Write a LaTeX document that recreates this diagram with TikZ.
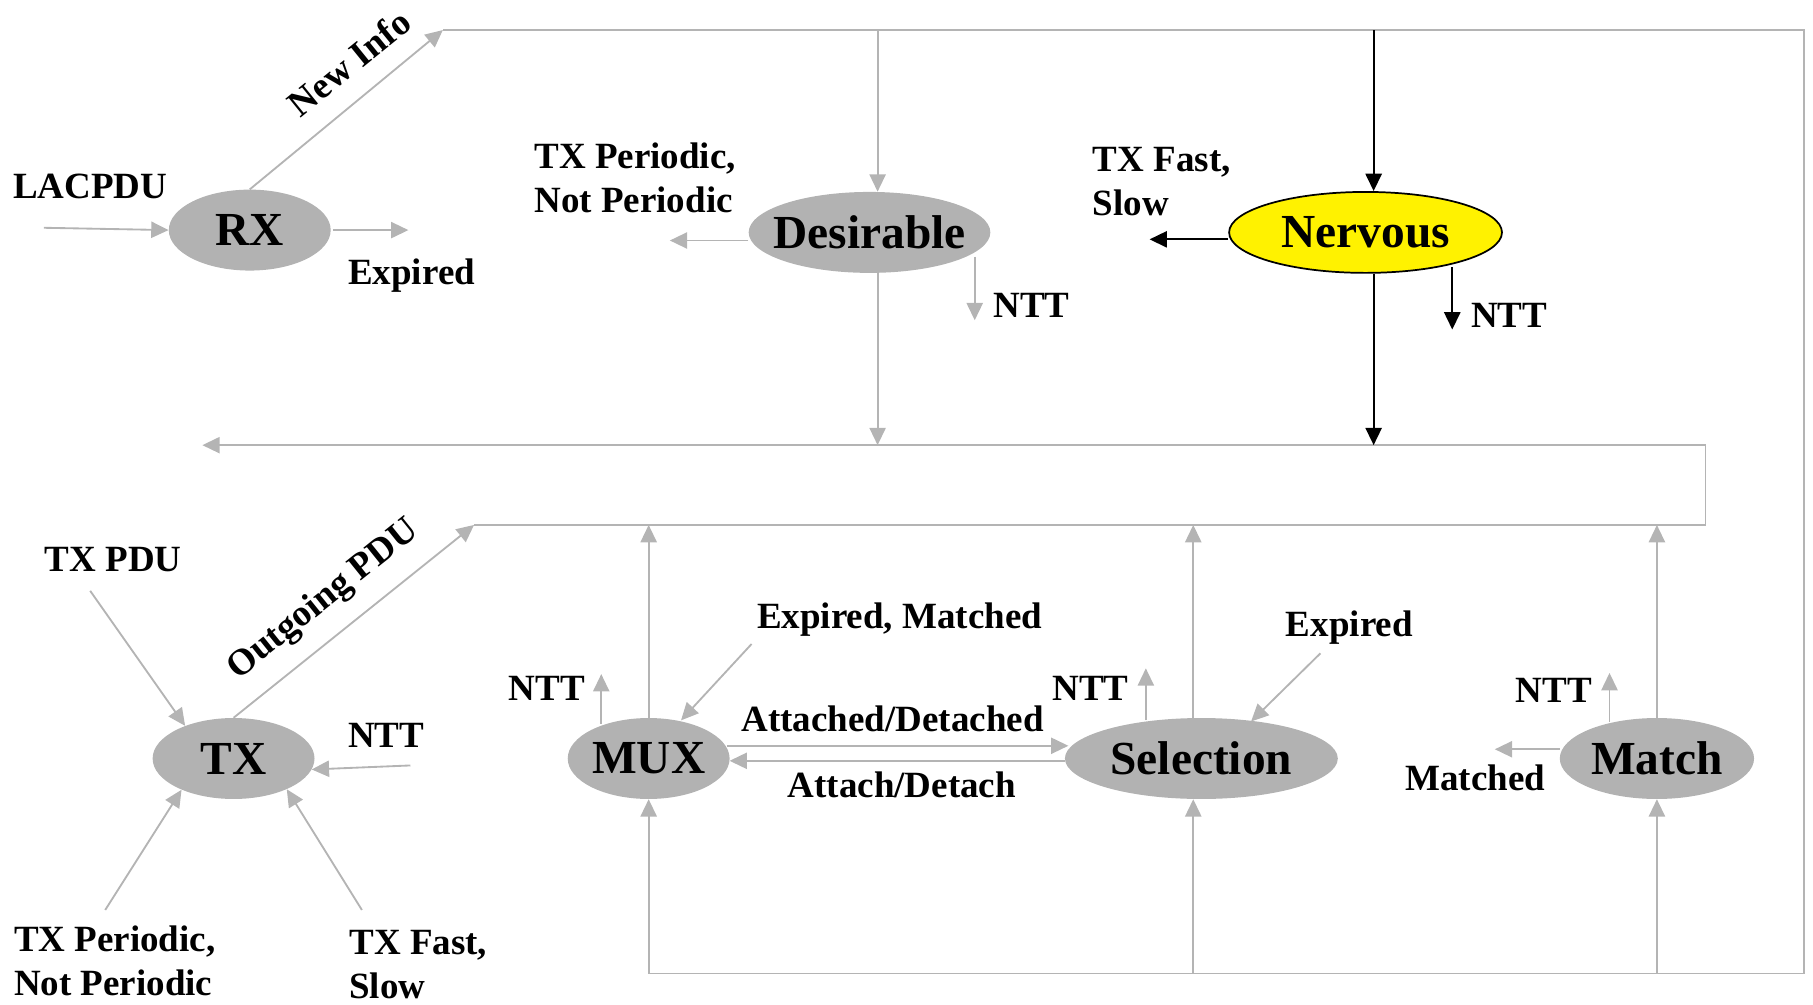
\documentclass[tikz,border=0pt]{standalone}
\usepackage{fontspec}
\setmainfont{Liberation Serif}
\usetikzlibrary{arrows.meta,shapes.geometric,calc}
\definecolor{lg}{RGB}{180,180,180}
\definecolor{stfill}{RGB}{178,178,178}
% state names sit in zero-width boxes so the ellipse size is set by the style alone
\newcommand{\stname}[1]{\makebox[0pt]{#1}}
\tikzset{
  st/.style={ellipse, fill=stfill, inner sep=0pt, minimum width=140pt, minimum height=70pt,
             font=\fontsize{41}{41}\selectfont\bfseries},
  nerv/.style={st, fill=yellow, draw=black, line width=1.5pt},
  lbl/.style={font=\fontsize{32}{38}\selectfont\bfseries, inner sep=0pt, align=left},
  gline/.style={draw=lg, line width=1.6pt},
  garr/.style={gline, -{Triangle[length=15pt,width=14pt]}},
  barr/.style={draw=black, line width=1.8pt, -{Triangle[length=15pt,width=14pt]}},
}
\begin{document}
\begin{tikzpicture}[x=1pt,y=-1pt]
\useasboundingbox (0,0) rectangle (1568,869);

% state machines
\node[st] (rx) at (216,199) {\stname{RX}};
\node[st, minimum width=209pt] (des) at (752,201) {\stname{Desirable}};
\node[nerv, minimum width=236pt] (nerv) at (1181,201) {\stname{Nervous}};
\node[st] (tx) at (202,656) {\stname{TX}};
\node[st] (mux) at (561,656) {\stname{MUX}};
\node[st, minimum width=236pt] (sel) at (1039,656) {\stname{Selection}};
\node[st, minimum width=168pt] (match) at (1433,656) {\stname{Match}};

% bus corners
\coordinate (topL) at (383,26);
\coordinate (topR) at (1560,26);
\coordinate (botR) at (1560,842);
\coordinate (botL) at (561,842);
\coordinate (busAL) at (175,385);
\coordinate (busAR) at (1475,385);
\coordinate (busBR) at (1475,454);
\coordinate (busBL) at (410,454);
\coordinate (dx) at (759,0);
\coordinate (nx) at (1188,0);
\coordinate (sx) at (1032,0);

% outer loop and inner bus
\draw[gline] (botL) -- (botR) -- (topR) -- (topL);
\draw[garr] (busBL) -- (busBR) -- (busAR) -- (busAL);

% RX
\coordinate (lacIn) at (38,197);
\draw[garr] (lacIn) -- (rx.west);
\node[lbl, anchor=center] (lac) at (78,161) {LACPDU};
\draw[garr] ($(rx.east)+(2,0)$) -- ++(65,0);
\node[lbl, anchor=center] (rxexp) at (356,238) {Expired};
\draw[garr] (rx.north) -- (topL);
\node[lbl, anchor=center, rotate=39] (newinfo) at (302,54) {New Info};

% Desirable
\draw[garr] (dx |- topL) -- (dx |- des.north);
\draw[garr] (dx |- des.south) -- (dx |- busAL);
\draw[garr] ($(des.west)+(0,7)$) -- ++(-68,0);
\node[lbl, anchor=west] (desper) at (462,154) {TX Periodic,\\Not Periodic};
\draw[garr] ($(des.center)+(91,21)$) -- ++(0,55);
\node[lbl, anchor=west] (desntt) at (859,264) {NTT};

% Nervous
\draw[barr] (nx |- topL) -- (nx |- nerv.north);
\draw[barr] (nx |- nerv.south) -- (nx |- busAL);
\draw[barr] ($(nerv.west)+(0,6)$) -- ++(-68,0);
\node[lbl, anchor=west] (nervfast) at (945,157) {TX Fast,\\Slow};
\draw[barr] ($(nerv.center)+(75,30)$) -- ++(0,54);
\node[lbl, anchor=west] (nervntt) at (1272,273) {NTT};

% TX
\coordinate (txpduIn) at (78,511);
\coordinate (txperIn) at (91,787);
\coordinate (txfastIn) at (313,787);
\coordinate (txnttIn) at (355,662);
\draw[garr] (txpduIn) -- (tx.146);
\draw[garr] (txperIn) -- (tx.211);
\draw[garr] (txfastIn) -- (tx.330);
\draw[garr] (txnttIn) -- (tx.352);
\draw[garr] (tx.north) -- (busBL);
\node[lbl, anchor=center] (txpdu) at (98,484) {TX PDU};
\node[lbl, anchor=center, rotate=38.8] (outpdu) at (280,519) {Outgoing PDU};
\node[lbl, anchor=center] (txntt) at (334,636) {NTT};
\node[lbl, anchor=west] (txper) at (12,831) {TX Periodic,\\Not Periodic};
\node[lbl, anchor=west] (txfast) at (302,834) {TX Fast,\\Slow};

% MUX
\draw[garr] (mux.north) -- (mux.north |- busBL);
\draw[garr] (botL) -- (mux.south);
\draw[garr] ($(mux.center)+(-41,-30)$) -- ++(0,-43);
\node[lbl, anchor=center] (muxntt) at (473,595) {NTT};
\coordinate (emIn) at (650,557);
\draw[garr] (emIn) -- ($(mux.center)+(28,-33)$);
\node[lbl, anchor=center] (em) at (778,536) {Expired, Matched};
\draw[garr] ($(mux.center)+(68,-11)$) -- ($(sel.center)+(-115,-11)$);
\node[lbl, anchor=center] (attd) at (772,622) {Attached/Detached};
\draw[garr] ($(sel.center)+(-118,2)$) -- ($(mux.center)+(70,2)$);
\node[lbl, anchor=center] (att) at (780,679) {Attach/Detach};

% Selection
\draw[garr] (sx |- sel.north) -- (sx |- busBL);
\draw[garr] (sx |- botL) -- (sx |- sel.south);
\draw[garr] ($(sel.center)+(-48,-33)$) -- ++(0,-45);
\node[lbl, anchor=center] (selntt) at (943,595) {NTT};
\coordinate (exIn) at (1142,565);
\draw[garr] (exIn) -- ($(sel.center)+(43,-32)$);
\node[lbl, anchor=center] (selexp) at (1167,543) {Expired};

% Match
\draw[garr] (match.north) -- (match.north |- busBL);
\draw[garr] (match.south |- botL) -- (match.south);
\draw[garr] ($(match.center)+(-41,-32)$) -- ++(0,-42);
\node[lbl, anchor=center] (matntt) at (1344,597) {NTT};
\draw[garr] ($(match.west)+(0,-8)$) -- ++(-56,0);
\node[lbl, anchor=center] (matched) at (1276,673) {Matched};
\end{tikzpicture}
\end{document}
